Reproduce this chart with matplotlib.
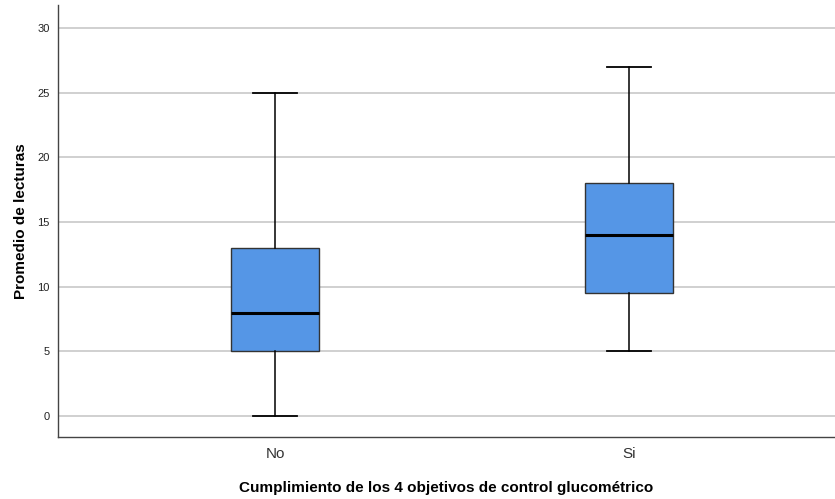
import matplotlib
matplotlib.use("Agg")
import matplotlib.pyplot as plt

plt.rcParams['font.family'] = ['Liberation Sans', 'DejaVu Sans']

groups = ["No", "Si"]
whisker_low = [0, 5]
q1 = [5, 9.5]
median = [8, 14]
q3 = [13, 18]
whisker_high = [25, 27]
y_ticks = [0, 5, 10, 15, 20, 25, 30]

stats = []
for g, wl, a, m, b, wh in zip(groups, whisker_low, q1, median, q3, whisker_high):
    stats.append(dict(label=g, whislo=wl, q1=a, med=m, q3=b, whishi=wh, fliers=[]))

fig = plt.figure(figsize=(8.35, 4.99), dpi=100)
ax = fig.add_axes([58/835, 1-437/499, 777/835, 432/499])

ax.set_axisbelow(True)
ax.yaxis.grid(True, color="#c8c8c8", linewidth=1.2)

ax.bxp(stats, positions=[1, 2], widths=0.249, patch_artist=True, showfliers=False,
       boxprops=dict(facecolor="#5596e6", edgecolor="#333333", linewidth=1),
       medianprops=dict(color="black", linewidth=2.2),
       whiskerprops=dict(color="black", linewidth=1.1),
       capprops=dict(color="black", linewidth=1.3),
       capwidths=0.125)

ax.set_xlim(0.387, 2.582)
ax.set_ylim(-1.62, 31.78)
ax.set_yticks(y_ticks)
ax.set_yticklabels([str(t) for t in y_ticks], fontsize=8, color="#222222")
ax.set_xticks([1, 2])
ax.set_xticklabels(groups, fontsize=11, color="#333333")
ax.tick_params(axis="both", length=0)
ax.tick_params(axis="y", pad=6)
ax.tick_params(axis="x", pad=7.5)

for s in ["top", "right"]:
    ax.spines[s].set_visible(False)
for s in ["left", "bottom"]:
    ax.spines[s].set_color("#444444")
    ax.spines[s].set_linewidth(1)

ax.set_ylabel("Promedio de lecturas", fontsize=11, fontweight="bold", labelpad=7)
ax.set_xlabel("Cumplimiento de los 4 objetivos de control glucométrico", fontsize=11,
              fontweight="bold", labelpad=14)

fig.savefig("out.png", dpi=100)
